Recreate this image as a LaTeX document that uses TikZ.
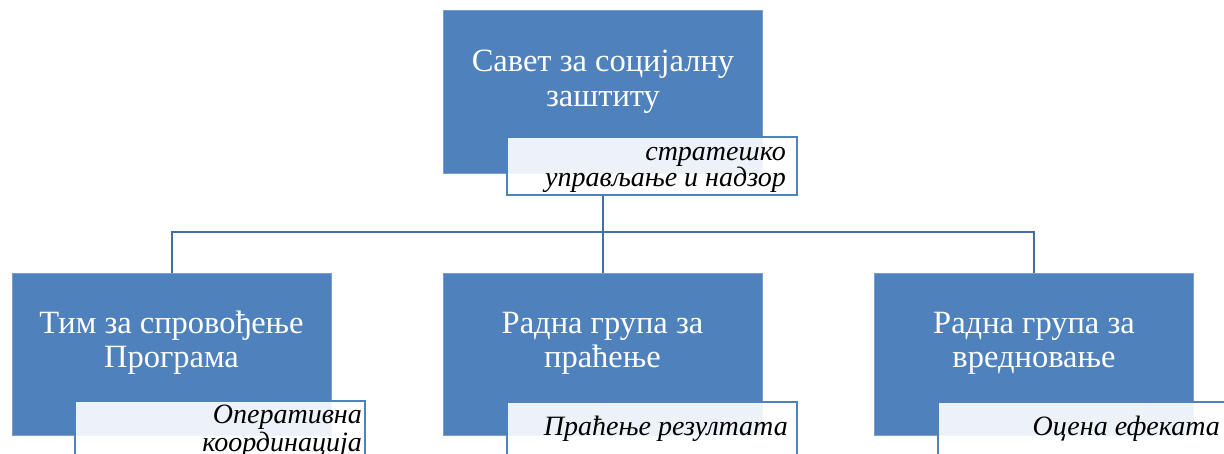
\documentclass[tikz,border=0pt]{standalone}
\usepackage{fontspec}
\setmainfont{Liberation Serif}
\definecolor{boxblue}{HTML}{4F81BD}
\definecolor{boxedge}{HTML}{7A9DCB}
\definecolor{linkblue}{HTML}{416EA6}
\begin{document}
\begin{tikzpicture}[x=1pt,y=-1pt,
  orgbox/.style={rectangle, fill=boxblue, draw=boxedge, line width=0.8pt,
    minimum width=319pt, minimum height=162pt, inner sep=0pt},
  tagbox/.style={rectangle, fill=white, fill opacity=0.9, draw=boxblue, line width=2pt,
    minimum width=290pt, minimum height=58pt, inner sep=0pt},
  boxtext/.style={text=white, align=center, font=\fontsize{32.5}{35}\selectfont, inner sep=0pt},
  tagtext/.style={text=black, align=right, font=\fontsize{28}{25}\selectfont\itshape, inner sep=0pt, anchor=base east},
  link/.style={draw=linkblue, line width=2pt}
]
\useasboundingbox (0,0) rectangle (1224,454);
\begin{scope}
\clip (0,0) rectangle (1224,454);
% top
\node[orgbox, minimum height=163pt] (top) at (602.5,91.5) {};
\node[boxtext, anchor=base] (toptxt) at (603,107) {Савет за социјалну\\заштиту};
\node[tagbox] (toptag) at (652,166) {};
\node[tagtext] (toptagtxt) at (786,187) {стратешко\\управљање и надзор};
% bottom boxes
\node[orgbox] (left) at (171.5,354) {};
\node[orgbox] (mid) at (602.5,354) {};
\node[orgbox] (right) at (1034,354) {};
\node[boxtext, anchor=base] (lefttxt) at (171.5,368) {Тим за спровођење\\Програма};
\node[boxtext, anchor=base] (midtxt) at (602.5,368) {Радна група за\\праћење};
\node[boxtext, anchor=base] (righttxt) at (1034,368) {Радна група за\\вредновање};
\node[tagbox, minimum height=62pt] (lefttag) at (220,432) {};
\node[tagbox, minimum height=62pt] (midtag) at (652,433) {};
\node[tagbox, minimum height=62pt] (righttag) at (1083,433) {};
\node[tagtext, font=\fontsize{28}{28}\selectfont\itshape] (lefttagtxt) at (362,451) {Оперативна\\координација};
\node[tagtext] (midtagtxt) at (788,435) {Праћење резултата};
\node[tagtext] (righttagtxt) at (1220,435) {Оцена ефеката};
% connectors
\coordinate (bus) at (602,232);
\draw[link] (top.south |- toptag.south) -- (mid.north);
\draw[link] (left.north) |- (bus) -| (right.north);
\end{scope}
\end{tikzpicture}
\end{document}
